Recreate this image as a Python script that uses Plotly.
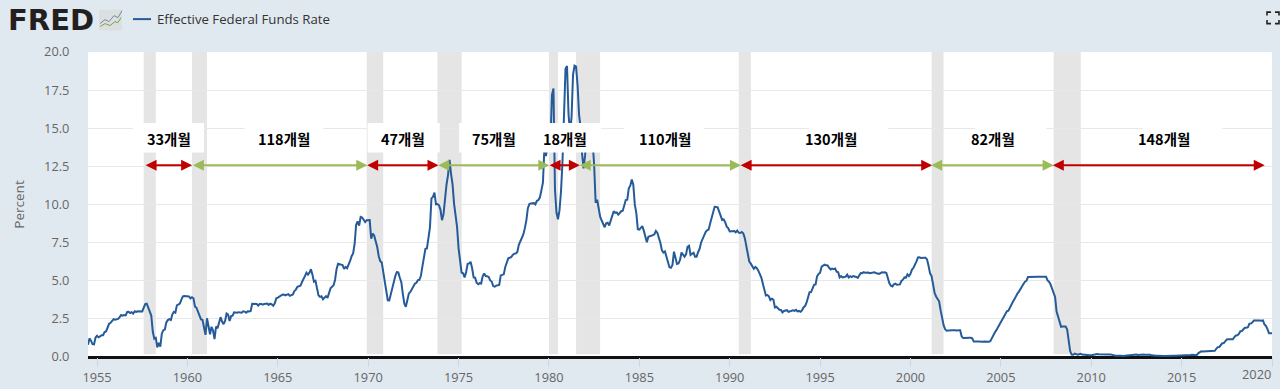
import plotly.graph_objects as go

# Monthly values, starting July 1954
rate_1950s = [0.80,1.22,1.07,0.85,0.83,1.28,
 1.39,1.29,1.35,1.43,1.43,1.64,1.68,1.96,2.18,2.24,2.35,2.48,
 2.45,2.50,2.50,2.62,2.75,2.71,2.75,2.73,2.95,2.96,2.88,2.94,
 2.84,3.00,2.96,3.00,3.00,3.00,2.99,3.24,3.47,3.50,3.28,2.98,
 2.72,1.67,1.20,1.26,0.63,0.93,0.68,1.53,1.76,1.80,2.27,2.42,
 2.48,2.43,2.80,2.96,2.90,3.39,3.47,3.50,3.76,3.98,4.00,3.99]
rate_1960s = [3.99,3.97,3.84,3.92,3.85,3.32,3.23,2.98,2.60,2.47,2.44,1.98,
 1.45,2.54,2.02,1.49,1.98,1.73,1.17,2.00,1.88,2.26,2.61,2.33,
 2.15,2.37,2.85,2.78,2.36,2.68,2.71,2.93,2.90,2.90,2.94,2.93,
 2.91,3.00,2.98,2.90,3.00,2.99,3.02,3.49,3.48,3.50,3.48,3.38,
 3.48,3.48,3.43,3.47,3.50,3.50,3.42,3.50,3.45,3.36,3.52,3.85,
 3.90,3.98,4.04,4.09,4.10,4.04,4.09,4.12,4.01,4.08,4.10,4.32,
 4.42,4.60,4.65,4.67,4.90,5.17,5.30,5.53,5.40,5.53,5.76,5.40,
 4.94,5.00,4.53,4.05,3.94,3.98,3.79,3.90,3.99,3.88,4.13,4.51,
 4.60,4.71,5.05,5.76,6.11,6.07,6.02,6.03,5.78,5.91,5.82,6.02,
 6.30,6.61,6.79,7.41,8.67,8.90,8.61,9.19,9.15,9.00,8.85,8.97]
rate_1970s = [8.98,8.98,7.76,8.10,7.95,7.61,7.21,6.61,6.29,6.20,5.60,4.90,
 4.14,3.72,3.71,4.16,4.63,4.91,5.31,5.57,5.55,5.20,4.91,4.14,
 3.50,3.29,3.83,4.17,4.27,4.46,4.55,4.80,4.87,5.04,5.06,5.33,
 5.94,6.58,7.09,7.12,7.84,8.49,10.40,10.50,10.78,10.01,10.03,9.95,
 9.65,8.97,9.35,10.51,11.31,11.93,12.92,12.01,11.34,10.06,9.45,8.53,
 7.13,6.24,5.54,5.49,5.22,5.55,6.10,6.14,6.24,5.82,5.22,5.20,
 4.87,4.77,4.84,4.82,5.29,5.48,5.31,5.29,5.25,5.02,4.95,4.65,
 4.61,4.68,4.69,4.73,5.35,5.39,5.42,5.90,6.14,6.47,6.51,6.56,
 6.70,6.78,6.79,6.89,7.36,7.60,7.81,8.04,8.45,8.96,9.76,10.03,
 10.07,10.06,10.09,10.01,10.24,10.29,10.47,10.94,11.43,13.77,13.18,13.78]
rate_1980s = [13.82,14.13,17.19,17.61,10.98,9.47,9.03,9.61,10.87,12.81,15.85,18.90,
 19.08,15.93,14.70,15.72,18.52,19.10,19.04,17.82,15.87,15.08,13.31,12.37,
 13.22,14.78,14.68,14.94,14.45,14.15,12.59,10.12,10.31,9.71,9.20,8.95,
 8.68,8.51,8.77,8.80,8.63,8.98,9.37,9.56,9.45,9.48,9.34,9.47,
 9.56,9.59,9.91,10.29,10.32,11.06,11.23,11.64,11.30,9.99,9.43,8.38,
 8.35,8.50,8.58,8.27,7.97,7.53,7.88,7.90,7.92,7.99,8.05,8.27,
 8.14,7.86,7.48,6.99,6.85,6.92,6.56,6.17,5.89,5.85,6.04,6.91,
 6.43,6.10,6.13,6.37,6.85,6.73,6.58,6.73,7.22,7.29,6.69,6.77,
 6.83,6.58,6.58,6.87,7.09,7.51,7.75,8.01,8.19,8.30,8.35,8.76,
 9.12,9.36,9.85,9.84,9.81,9.53,9.24,8.99,9.02,8.84,8.55,8.45]
rate_1990s = [8.23,8.24,8.28,8.26,8.18,8.29,8.15,8.13,8.20,8.11,7.81,7.31,
 6.91,6.25,6.12,5.91,5.78,5.90,5.82,5.66,5.45,5.21,4.81,4.43,
 4.03,4.06,3.98,3.73,3.82,3.76,3.25,3.30,3.22,3.10,3.09,2.92,
 3.02,3.03,3.07,2.96,3.00,3.04,3.06,3.03,3.09,2.99,3.02,2.96,
 3.05,3.25,3.34,3.56,4.01,4.25,4.26,4.47,4.73,4.76,5.29,5.45,
 5.53,5.92,5.98,6.05,6.01,6.00,5.85,5.74,5.80,5.76,5.80,5.60,
 5.56,5.22,5.31,5.22,5.24,5.27,5.40,5.22,5.30,5.24,5.31,5.29,
 5.25,5.19,5.39,5.51,5.50,5.56,5.52,5.54,5.54,5.50,5.52,5.50,
 5.56,5.51,5.49,5.45,5.49,5.56,5.54,5.55,5.51,5.07,4.83,4.68,
 4.63,4.76,4.81,4.74,4.74,4.76,4.99,5.07,5.22,5.20,5.42,5.30]
rate_2000s = [5.45,5.73,5.85,6.02,6.27,6.53,6.54,6.50,6.52,6.51,6.51,6.40,
 5.98,5.49,5.31,4.80,4.21,3.97,3.77,3.65,3.07,2.49,2.09,1.82,
 1.73,1.74,1.73,1.75,1.75,1.75,1.73,1.74,1.75,1.75,1.34,1.24,
 1.24,1.26,1.25,1.26,1.26,1.22,1.01,1.03,1.01,1.01,1.00,0.98,
 1.00,1.01,1.00,1.00,1.00,1.03,1.26,1.43,1.61,1.76,1.93,2.16,
 2.28,2.50,2.63,2.79,3.00,3.04,3.26,3.50,3.62,3.78,4.00,4.16,
 4.29,4.49,4.59,4.79,4.94,4.99,5.24,5.25,5.25,5.25,5.25,5.24,
 5.25,5.26,5.26,5.25,5.25,5.25,5.26,5.02,4.94,4.76,4.49,4.24,
 3.94,2.98,2.61,2.28,1.98,2.00,2.01,2.00,1.81,0.97,0.39,0.16,
 0.15,0.22,0.18,0.15,0.18,0.21,0.16,0.16,0.15,0.12,0.12,0.12]
rate_2010s = [0.11,0.13,0.16,0.20,0.20,0.18,0.18,0.19,0.19,0.19,0.19,0.18,
 0.17,0.16,0.14,0.10,0.09,0.09,0.07,0.10,0.08,0.07,0.08,0.07,
 0.08,0.10,0.13,0.14,0.16,0.16,0.16,0.13,0.14,0.16,0.16,0.16,
 0.14,0.15,0.14,0.15,0.11,0.09,0.09,0.08,0.08,0.09,0.08,0.09,
 0.07,0.07,0.08,0.09,0.09,0.10,0.09,0.09,0.09,0.09,0.09,0.12,
 0.11,0.11,0.11,0.12,0.12,0.13,0.13,0.14,0.14,0.12,0.12,0.24,
 0.34,0.38,0.36,0.37,0.37,0.38,0.39,0.40,0.40,0.40,0.41,0.54,
 0.65,0.66,0.79,0.90,0.91,1.04,1.15,1.16,1.15,1.15,1.16,1.30,
 1.41,1.42,1.51,1.69,1.70,1.82,1.91,1.91,1.95,2.19,2.20,2.27,
 2.40,2.40,2.41,2.42,2.39,2.38,2.40,2.13,2.04,1.83,1.55,1.55,
 1.55]

series_name = "Effective Federal Funds Rate"
start_year = 1954.5
x_range = [1954.5, 2020.0]
year_ticks = list(range(1955, 2021, 5))
y_ticks = [0, 2.5, 5, 7.5, 10, 12.5, 15, 17.5, 20]

# NBER recessions, decimal years
rec_start = [1957.58,1960.25,1969.92,1973.83,1980.0,1981.5,1990.5,2001.17,2007.92]
rec_end   = [1958.25,1961.08,1970.83,1975.17,1980.5,1982.83,1991.17,2001.83,2009.42]

# Pasted-in annotations: expansions (in months)
span_labels = ["33개월","118개월","47개월","75개월","18개월","110개월","130개월","82개월","148개월"]
label_x     = [1958.96,1965.37,1971.90,1976.96,1980.88,1986.41,1995.60,2004.57,2014.02]
arrow_from  = [1957.60,1960.22,1969.86,1973.79,1979.95,1981.62,1990.52,2001.06,2007.79]
arrow_to    = [1960.26,1969.95,1973.89,1980.02,1981.71,1990.62,2001.20,2007.92,2019.60]
arrow_color = ["#C00000","#9BBB59","#C00000","#9BBB59","#C00000","#9BBB59","#C00000","#9BBB59","#C00000"]
arrow_level = 12.57
white_boxes = [(1956.98,1960.92),(1963.16,1967.52),(1969.97,1973.96),(1975.03,1982.89),
               (1984.16,1988.58),(1994.39,1998.78),(2003.59,2007.52),(2012.85,2017.25)]
box_y = (13.41, 15.35)

W, H = 1280, 389
L, R, T, B = 88, 1272, 51.5, 357.5
def px(x): return (x - L) / (R - L)
def py(y): return (B - y) / (B - T)

rates = rate_1950s + rate_1960s + rate_1970s + rate_1980s + rate_1990s + rate_2000s + rate_2010s
months = [start_year + i / 12 for i in range(len(rates))]

fig = go.Figure(go.Scatter(x=months, y=rates, mode="lines", name=series_name,
                           line=dict(color="#255B98", width=2), hoverinfo="x+y"))

shapes = []
for a, b in zip(rec_start, rec_end):
    shapes.append(dict(type="rect", xref="x", yref="y", x0=a, x1=b, y0=0.18, y1=20,
                       fillcolor="#E5E5E5", line_width=0, layer="below"))
for a, b in white_boxes:
    shapes.append(dict(type="rect", xref="x", yref="y", x0=a, x1=b, y0=box_y[0], y1=box_y[1],
                       fillcolor="#FFFFFF", line_width=0, layer="above"))

def paper_rect(x0, y0, x1, y1, fill):
    return dict(type="rect", xref="paper", yref="paper", x0=px(x0), x1=px(x1), y0=py(y1), y1=py(y0),
                fillcolor=fill, line_width=0, layer="above")
def paper_path(points, color, width=1.3):
    d = "M" + " L".join(f"{px(a):.5f},{py(b):.5f}" for a, b in points)
    return dict(type="path", xref="paper", yref="paper", path=d,
                line=dict(color=color, width=width), layer="above")

# legend key, logo icon, fullscreen icon
shapes.append(paper_path([(133, 18.5), (151, 18.5)], "#255B98", 2))
shapes.append(paper_rect(99, 9, 122, 30, "#DCDFDF"))
shapes.append(paper_path([(100, 23), (105, 19), (109, 21), (114, 15), (118, 17), (122, 10)], "#6E8CA8", 1))
shapes.append(paper_path([(100, 26), (105, 23), (110, 25), (115, 21), (118, 22), (121, 17)], "#7FA24A", 1))
for pts in ([(1267, 15), (1267, 11.5), (1271, 11.5)], [(1275, 11.5), (1279, 11.5), (1279, 15)],
            [(1267, 19.5), (1267, 23), (1271, 23)], [(1275, 23), (1279, 23), (1279, 19.5)]):
    shapes.append(paper_path(pts, "#222222", 1.6))

anns = []
for a, b, c in zip(arrow_from, arrow_to, arrow_color):
    anns.append(dict(x=b, y=arrow_level, ax=a, ay=arrow_level, xref="x", yref="y", axref="x", ayref="y",
                     text=" ", font=dict(size=1), showarrow=True, arrowside="end+start",
                     arrowhead=2, startarrowhead=2, arrowsize=1.1, startarrowsize=1.1,
                     arrowwidth=2, arrowcolor=c, standoff=0, startstandoff=0))
for t, x in zip(span_labels, label_x):
    anns.append(dict(x=x, y=14.35, xref="x", yref="y", text=f"<b>{t}</b>", showarrow=False,
                     font=dict(family="Noto Sans CJK KR", size=14.5, color="#000000")))
anns.append(dict(x=px(155), y=py(18.5), xref="paper", yref="paper", text=series_name, showarrow=False,
                 xanchor="left", yanchor="middle", font=dict(family="Open Sans", size=13.2, color="#333333")))
anns.append(dict(x=px(6), y=py(19.5), xref="paper", yref="paper", text="<b>FRED</b>", showarrow=False,
                 xanchor="left", yanchor="middle", font=dict(family="DejaVu Sans", size=29, color="#231F20")))
anns.append(dict(x=px(1273), y=py(375), xref="paper", yref="paper", text="2020", showarrow=False,
                 xanchor="right", yanchor="middle", font=dict(family="Open Sans", size=12.8, color="#666666")))

fig.update_layout(
    width=W, height=H, autosize=False,
    margin=dict(l=L, r=W - R, t=T, b=H - B, pad=0),
    paper_bgcolor="#E1E9F0", plot_bgcolor="#FFFFFF", showlegend=False,
    font=dict(family="Open Sans", size=12.8, color="#666666"),
    shapes=shapes, annotations=anns,
    xaxis=dict(range=x_range, tickvals=year_ticks, automargin=False,
               ticktext=[str(y) if y != 2020 else "" for y in year_ticks],
               showgrid=False, zeroline=False, ticks="outside", ticklen=9, tickcolor="#CCD6EB", tickwidth=1,
               showline=False, tickfont=dict(size=12.8, color="#666666")),
    yaxis=dict(range=[0, 20], tickvals=y_ticks, ticktext=[f"{v:.1f}" for v in y_ticks], automargin=False,
               showgrid=True, gridcolor="#E8E8E8", gridwidth=1.3, zeroline=True, zerolinecolor="#111111",
               zerolinewidth=2.5, ticks="outside", ticklen=15, tickcolor="rgba(0,0,0,0)",
               title=dict(text="Percent", standoff=16, font=dict(size=13.5, color="#666666")),
               tickfont=dict(size=12.8, color="#666666")),
)

fig.write_html("out.html", config={"displayModeBar": False},
               post_script="document.body.style.margin='0';document.body.style.overflow='hidden';")
